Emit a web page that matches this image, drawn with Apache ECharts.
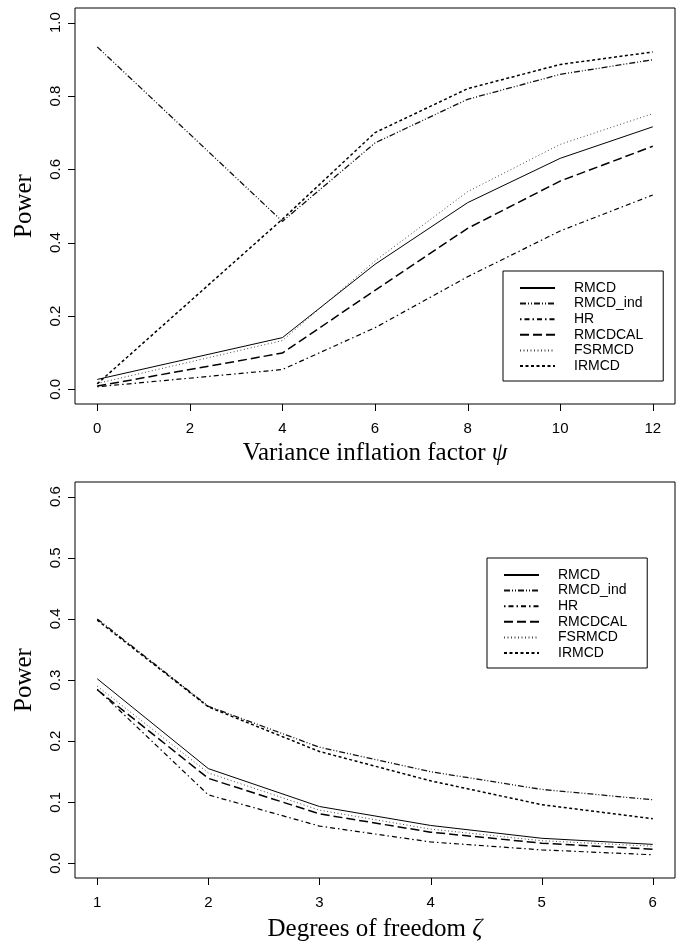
<!DOCTYPE html>
<html>
<head>
<meta charset="utf-8">
<script src="https://cdn.jsdelivr.net/npm/echarts@6/dist/echarts.min.js"></script>
<style>
  html, body { margin: 0; padding: 0; background: #fff; }
  #chart { width: 683px; height: 943px; }
</style>
</head>
<body>
<div id="chart"></div>
<script>
// 上图：方差膨胀因子
var psiValues = [0, 4, 6, 8, 10, 12];
var psiTicks = [0, 2, 4, 6, 8, 10, 12];
var powerTicksTop = [0, 0.2, 0.4, 0.6, 0.8, 1.0];
var topRMCD = [0.027, 0.141, 0.341, 0.509, 0.630, 0.716];
var topRMCDind = [0.934, 0.458, 0.672, 0.791, 0.859, 0.899];
var topHR = [0.007, 0.054, 0.168, 0.307, 0.432, 0.530];
var topRMCDCAL = [0.009, 0.099, 0.270, 0.439, 0.568, 0.663];
var topFSRMCD = [0.016, 0.133, 0.350, 0.539, 0.668, 0.752];
var topIRMCD = [0.015, 0.464, 0.700, 0.820, 0.886, 0.920];

// 下图：自由度
var zetaValues = [1, 2, 3, 4, 5, 6];
var powerTicksBottom = [0, 0.1, 0.2, 0.3, 0.4, 0.5, 0.6];
var botRMCD = [0.302, 0.155, 0.093, 0.062, 0.041, 0.031];
var botRMCDind = [0.400, 0.257, 0.190, 0.150, 0.121, 0.104];
var botHR = [0.285, 0.112, 0.061, 0.035, 0.022, 0.014];
var botRMCDCAL = [0.284, 0.139, 0.081, 0.051, 0.033, 0.023];
var botFSRMCD = [0.290, 0.148, 0.087, 0.056, 0.037, 0.028];
var botIRMCD = [0.398, 0.256, 0.183, 0.135, 0.096, 0.073];

var names = ["RMCD", "RMCD_ind", "HR", "RMCDCAL", "FSRMCD", "IRMCD"];

// 线型，模仿 R 的 lty
var styles = {
  "RMCD": { color: "#000", width: 1, type: "solid" },
  "RMCD_ind": { color: "#111", width: 1.3, type: [6, 2, 1, 2, 1, 2] },
  "HR": { color: "#000", width: 1.2, type: [1.5, 3, 5, 3] },
  "RMCDCAL": { color: "#000", width: 1.5, type: [9, 4] },
  "FSRMCD": { color: "#444", width: 1, type: [1, 2.5] },
  "IRMCD": { color: "#000", width: 1.5, type: [3, 2.5] }
};

function pairs(xs, ys) {
  return xs.map(function (x, i) { return [x, ys[i]]; });
}

function makeSeries(name, xs, ys, idx) {
  return {
    name: name,
    type: "line",
    xAxisIndex: idx,
    yAxisIndex: idx,
    symbol: "none",
    silent: true,
    animation: false,
    lineStyle: styles[name],
    itemStyle: { color: styles[name].color },
    data: pairs(xs, ys)
  };
}

var sansFont = "Liberation Sans, Arial, sans-serif";
var serifFont = "Liberation Serif, Times New Roman, serif";

function xAxisCfg(idx, min, max, ticks, title, greek, gap) {
  return {
    type: "value",
    gridIndex: idx,
    min: min,
    max: max,
    axisLine: { show: false, onZero: false },
    splitLine: { show: false },
    axisTick: { show: false },
    axisLabel: {
      customValues: ticks,
      color: "#000",
      fontFamily: sansFont,
      fontSize: 15,
      margin: 17
    },
    name: "{a|" + title + " }{g|" + greek + "}",
    nameLocation: "middle",
    nameGap: gap,
    nameTextStyle: {
      rich: {
        a: { fontFamily: serifFont, fontSize: 25, color: "#000" },
        g: { fontFamily: serifFont, fontSize: 25, fontStyle: "italic", color: "#000" }
      }
    }
  };
}

function yAxisCfg(idx, min, max, ticks) {
  return {
    type: "value",
    gridIndex: idx,
    min: min,
    max: max,
    axisLine: { show: false, onZero: false },
    splitLine: { show: false },
    axisTick: { show: false },
    axisLabel: {
      customValues: ticks,
      rotate: 90,
      color: "#000",
      fontFamily: sansFont,
      fontSize: 15,
      margin: 12,
      formatter: function (v) { return v.toFixed(1); }
    },
    name: "Power",
    nameLocation: "middle",
    nameRotate: 90,
    nameGap: 38,
    nameTextStyle: { fontFamily: serifFont, fontSize: 25, color: "#000" }
  };
}

function legendCfg(left, top) {
  return {
    orient: "vertical",
    left: left,
    top: top,
    data: names,
    selectedMode: false,
    itemWidth: 35,
    itemHeight: 10,
    itemGap: 1.6,
    padding: [10, 20, 8, 16],
    borderColor: "#000",
    borderWidth: 1,
    borderRadius: 0,
    itemStyle: { opacity: 0 },
    textStyle: {
      color: "#000",
      fontFamily: sansFont,
      fontSize: 14,
      lineHeight: 14,
      padding: [0, 0, 0, 14]
    }
  };
}

var series = [];
var topData = [topRMCD, topRMCDind, topHR, topRMCDCAL, topFSRMCD, topIRMCD];
var botData = [botRMCD, botRMCDind, botHR, botRMCDCAL, botFSRMCD, botIRMCD];
names.forEach(function (n, i) {
  series.push(makeSeries(n, psiValues, topData[i], 0));
});
names.forEach(function (n, i) {
  series.push(makeSeries(n, zetaValues, botData[i], 1));
});

var topXRange = [-0.48, 12.48];
var topYRange = [-0.04, 1.04];
var botXRange = [0.8, 6.2];
var botYRange = [-0.024, 0.624];

var option = {
  backgroundColor: "#fff",
  animation: false,
  grid: [
    { left: 75, top: 8, width: 600, height: 396, outerBoundsMode: "none", show: true, borderColor: "#000", borderWidth: 1, backgroundColor: "transparent" },
    { left: 75, top: 482, width: 600, height: 396, outerBoundsMode: "none", show: true, borderColor: "#000", borderWidth: 1, backgroundColor: "transparent" }
  ],
  xAxis: [
    xAxisCfg(0, topXRange[0], topXRange[1], psiTicks, "Variance inflation factor", "\u03c8", 37),
    xAxisCfg(1, botXRange[0], botXRange[1], zetaValues, "Degrees of freedom", "\u03b6", 39)
  ],
  yAxis: [
    yAxisCfg(0, topYRange[0], topYRange[1], powerTicksTop),
    yAxisCfg(1, botYRange[0], botYRange[1], powerTicksBottom)
  ],
  legend: [legendCfg(503, 271), legendCfg(487, 558)],
  series: series
};

var chartObj = echarts.init(document.getElementById("chart"));
chartObj.setOption(option);

// 刻度线画在边框外侧，位置由坐标轴换算
var tickLen = 7;
var tickShapes = [];
function addTicks(gridIndex, xTicks, yTicks, xMin, yMin) {
  xTicks.forEach(function (v) {
    var p = chartObj.convertToPixel({ gridIndex: gridIndex }, [v, yMin]);
    if (!p) return;
    var x = Math.round(p[0]) + 0.5, y = Math.round(p[1]);
    tickShapes.push({
      type: "line", silent: true, z: 100,
      shape: { x1: x, y1: y, x2: x, y2: y + tickLen },
      style: { stroke: "#000", lineWidth: 1 }
    });
  });
  yTicks.forEach(function (v) {
    var p = chartObj.convertToPixel({ gridIndex: gridIndex }, [xMin, v]);
    if (!p) return;
    var x = Math.round(p[0]), y = Math.round(p[1]) + 0.5;
    tickShapes.push({
      type: "line", silent: true, z: 100,
      shape: { x1: x, y1: y, x2: x - tickLen, y2: y },
      style: { stroke: "#000", lineWidth: 1 }
    });
  });
}
addTicks(0, psiTicks, powerTicksTop, topXRange[0], topYRange[0]);
addTicks(1, zetaValues, powerTicksBottom, botXRange[0], botYRange[0]);
chartObj.setOption({ graphic: { elements: tickShapes } });
</script>
</body>
</html>
